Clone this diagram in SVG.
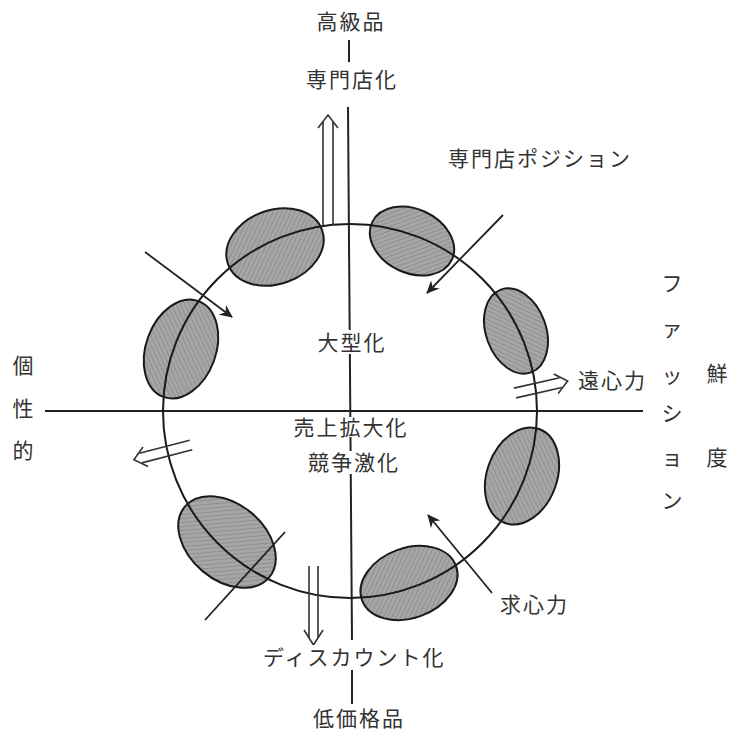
<svg xmlns="http://www.w3.org/2000/svg" width="737" height="734" viewBox="0 0 737 734">
<defs>
<style>
.t{font-family:"Noto Sans CJK JP","Noto Sans CJK SC",sans-serif;font-size:21px;fill:#333;letter-spacing:2px}
.ax{stroke:#222;stroke-width:2;fill:none}
.ln{stroke:#222;stroke-width:1.8;fill:none}
.dbl{stroke:#333;stroke-width:1.6;fill:none}
.el{fill:url(#hatch);stroke:#1a1a1a;stroke-width:2}
.bg{fill:#fff}
</style>
<pattern id="hatch" patternUnits="userSpaceOnUse" width="4" height="4" patternTransform="rotate(45)">
<rect width="4" height="4" fill="#a6a6a6"/>
<line x1="0" y1="0" x2="0" y2="4" stroke="#858585" stroke-width="1.4"/>
</pattern>
<marker id="ah" markerWidth="14" markerHeight="12" refX="12" refY="6" orient="auto" markerUnits="userSpaceOnUse">
<path d="M0,0 L13,6 L0,12 L4,6 Z" fill="#222"/>
</marker>
</defs>
<rect width="737" height="734" fill="#fff"/>

<g id="axes">
<line class="ax" x1="45" y1="411" x2="643" y2="411"/>
<line class="ax" x1="348" y1="107" x2="352" y2="640"/>
<line class="ax" x1="349" y1="40" x2="349" y2="62"/>
<line class="ax" x1="352" y1="670" x2="352" y2="704"/>
</g>

<g id="ellipses">
<g id="e-topleft"><ellipse class="el" cx="275" cy="247" rx="50" ry="37" transform="rotate(-20 275 247)"/></g>
<g id="e-topright"><ellipse class="el" cx="412" cy="241" rx="44" ry="32" transform="rotate(25 412 241)"/></g>
<g id="e-rightupper"><ellipse class="el" cx="516" cy="331" rx="44" ry="30" transform="rotate(70 516 331)"/></g>
<g id="e-rightlower"><ellipse class="el" cx="522" cy="476" rx="50" ry="35" transform="rotate(110 522 476)"/></g>
<g id="e-bottomright"><ellipse class="el" cx="409" cy="583" rx="50" ry="35" transform="rotate(-20 409 583)"/></g>
<g id="e-bottomleft"><ellipse class="el" cx="227" cy="542" rx="55" ry="38" transform="rotate(40 227 542)"/></g>
<g id="e-left"><ellipse class="el" cx="181" cy="349" rx="51" ry="35" transform="rotate(110 181 349)"/></g>
</g>

<g id="circle">
<circle cx="350" cy="411" r="187" fill="none" stroke="#1a1a1a" stroke-width="2"/>
</g>

<g id="connectors">
<line class="ln" x1="145" y1="252" x2="232" y2="317" marker-end="url(#ah)"/>
<line class="ln" x1="503" y1="215" x2="427" y2="293" marker-end="url(#ah)"/>
<line class="ln" x1="492" y1="593" x2="428" y2="515" marker-end="url(#ah)"/>
<line class="ln" x1="205" y1="620" x2="285" y2="532"/>
<g id="arrow-up">
<line class="dbl" x1="323" y1="225" x2="323" y2="122"/>
<line class="dbl" x1="333" y1="225" x2="333" y2="122"/>
<path class="dbl" d="M318,128 L328,115 L338,128"/>
</g>
<g id="arrow-down">
<line class="dbl" x1="309" y1="566" x2="309" y2="638"/>
<line class="dbl" x1="318" y1="566" x2="318" y2="638"/>
<path class="dbl" d="M304,630 L313.5,645 L323,630"/>
</g>
<g id="arrow-right" transform="translate(515 393) rotate(-12.8)">
<line class="dbl" x1="0" y1="-5" x2="47" y2="-5"/>
<line class="dbl" x1="0" y1="5" x2="47" y2="5"/>
<path class="dbl" d="M42,-10 L54,0 L42,10"/>
</g>
<g id="arrow-left" transform="translate(191 445) rotate(165.5)">
<line class="dbl" x1="0" y1="-5" x2="52" y2="-5"/>
<line class="dbl" x1="0" y1="5" x2="52" y2="5"/>
<path class="dbl" d="M47,-10 L59,0 L47,10"/>
</g>
</g>

<g id="labels">
<g id="lbl-koukyu"><text class="t" x="351" y="29" text-anchor="middle">高級品</text></g>
<g id="lbl-senmon"><text class="t" x="352" y="87" text-anchor="middle">専門店化</text></g>
<g id="lbl-position"><text class="t" x="448" y="166" letter-spacing="2.5">専門店ポジション</text></g>
<g id="lbl-ogata"><rect class="bg" x="315" y="330" width="72" height="24"/><text class="t" x="352" y="350" text-anchor="middle">大型化</text></g>
<g id="lbl-uriage"><rect class="bg" x="292" y="417" width="116" height="20"/><text class="t" x="351" y="435" text-anchor="middle">売上拡大化</text></g>
<g id="lbl-kyoso"><rect class="bg" x="306" y="451" width="96" height="23"/><text class="t" x="354" y="470" text-anchor="middle">競争激化</text></g>
<g id="lbl-discount"><rect class="bg" x="262" y="645" width="194" height="24"/><text class="t" x="263" y="665" letter-spacing="3">ディスカウント化</text></g>
<g id="lbl-teikakaku"><text class="t" x="359" y="726" text-anchor="middle">低価格品</text></g>
<g id="lbl-enshin"><text class="t" x="578" y="388" letter-spacing="1">遠心力</text></g>
<g id="lbl-kyushin"><text class="t" x="500" y="612" letter-spacing="1">求心力</text></g>
<g id="lbl-kosei"><text class="t" text-anchor="middle"><tspan x="24" y="373">個</tspan><tspan x="24" y="416">性</tspan><tspan x="24" y="458">的</tspan></text></g>
<g id="lbl-fashion"><text class="t" text-anchor="middle"><tspan x="673" y="291">フ</tspan><tspan x="673" y="336">ァ</tspan><tspan x="673" y="383">ッ</tspan><tspan x="673" y="421">シ</tspan><tspan x="673" y="465">ョ</tspan><tspan x="673" y="508">ン</tspan></text></g>
<g id="lbl-sendo"><text class="t" text-anchor="middle"><tspan x="718" y="381">鮮</tspan><tspan x="718" y="465">度</tspan></text></g>
</g>
</svg>
